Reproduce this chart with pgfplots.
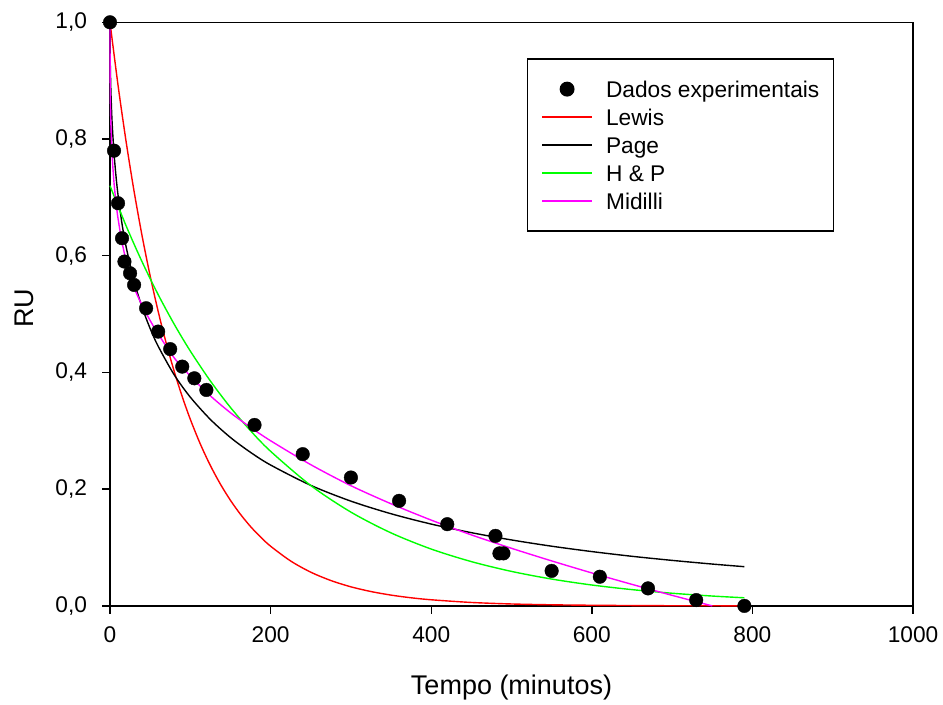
\documentclass[border=0pt]{standalone}
\usepackage{fontspec}
\setmainfont{Liberation Sans}
\usepackage{pgfplots}
\pgfplotsset{compat=1.18}
\definecolor{cRed}{RGB}{255,0,0}
\definecolor{cGreen}{RGB}{0,255,0}
\definecolor{cMag}{RGB}{255,0,255}
\pgfplotsset{legend image code/.code={\path[draw=none, fill=none] (0bp,0bp) -- (64bp,0bp);\draw[mark repeat=2, mark phase=2, #1] plot coordinates {(0bp,0bp) (25bp,0bp) (50bp,0bp)};}}
\begin{document}
\begin{tikzpicture}
\begin{axis}[
  scale only axis, width=803bp, height=583.6bp,
  xmin=0, xmax=1000, ymin=0, ymax=1,
  clip=false,
  axis line style={line width=1.4bp},
  xtick={0,200,400,600,800,1000},
  ytick={0,0.2,0.4,0.6,0.8,1.0},
  tick pos=left,
  tick align=outside,
  major tick length=8bp,
  tick style={line width=1.4bp, black},
  /pgf/number format/assume math mode=true,
  ticklabel style={font=\fontsize{22.7bp}{27bp}\selectfont},
  yticklabel style={xshift=-11.5bp, /pgf/number format/fixed, /pgf/number format/fixed zerofill, /pgf/number format/precision=1, /pgf/number format/use comma},
  xticklabel style={yshift=-9bp, /pgf/number format/1000 sep={}},
  xlabel={Tempo (minutos)},
  ylabel={RU},
  label style={font=\fontsize{27bp}{32bp}\selectfont},
  xlabel style={at={(axis description cs:0.5,-0.152)}, anchor=base},
  ylabel style={at={(axis description cs:-0.0955,0.51)}, anchor=base},
  legend style={at={(axis description cs:0.519,0.938)}, anchor=north west,
    draw=black, line width=1.3bp, inner xsep=14bp, inner ysep=16bp,
    font=\fontsize{22.7bp}{27bp}\selectfont, row sep=0bp,
    nodes={inner xsep=0bp, inner ysep=0bp, text height=22.1bp, text depth=5.9bp}},
  legend cell align=left,
]
\addplot[only marks, mark=*, mark size=6.8bp, black]
  table {
t ru
0 1.00
5 0.78
10 0.69
15 0.63
18 0.59
25 0.57
30 0.55
45 0.51
60 0.47
75 0.44
90 0.41
105 0.39
120 0.37
180 0.31
240 0.26
300 0.22
360 0.18
420 0.14
480 0.12
485 0.09
490 0.09
550 0.06
610 0.05
670 0.03
730 0.01
790 0.00
};
\addlegendentry{Dados experimentais}
\addplot[cRed, line width=1.4bp, smooth] table {
t ru
0 1.0
10 0.8923
20 0.7961
30 0.7103
40 0.6338
50 0.5655
60 0.5046
70 0.4502
80 0.4017
90 0.3584
100 0.3198
112.5 0.2773
125 0.2405
137.5 0.2086
150 0.1809
162.5 0.1569
175 0.1360
187.5 0.1180
200 0.1023
225 0.0769
250 0.0578
275 0.0435
300 0.0327
325 0.0246
350 0.0185
375 0.0139
400 0.0105
450 0.0059
500 0.0033
550 0.0019
600 0.0011
650 0.0006
700 0.0003
750 0.0002
790 0.0001
};
\addlegendentry{Lewis}
\addplot[black, line width=1.4bp, smooth] table {
t ru
0 1.0
0.1 0.9576
0.25 0.9362
0.5 0.917
1 0.887
2 0.8475
3 0.8188
5 0.7758
7.5 0.7359
10 0.7041
15 0.6544
20 0.6158
30 0.5565
40 0.5116
50 0.4753
60 0.4449
80 0.3959
100 0.3577
125 0.3195
150 0.2886
175 0.2631
200 0.2414
250 0.2066
300 0.1795
350 0.1579
400 0.1402
450 0.1255
500 0.1130
550 0.1023
600 0.0931
650 0.0850
700 0.0780
750 0.0717
790 0.0672
};
\addlegendentry{Page}
\addplot[cGreen, line width=1.4bp, smooth] table {
t ru
0 0.72
20 0.6515
40 0.5895
60 0.5334
80 0.4826
100 0.4367
125 0.3854
150 0.3401
175 0.3002
200 0.2649
250 0.2063
300 0.1607
350 0.1251
400 0.0974
450 0.0759
500 0.0591
550 0.0460
600 0.0358
650 0.0279
700 0.0217
750 0.0169
790 0.0139
};
\addlegendentry{H \& P}
\addplot[cMag, line width=1.4bp, smooth] table {
t ru
0 1.0
0.1 0.925
0.25 0.896
0.5 0.8653
1 0.8321
2 0.7916
3 0.7641
5 0.7251
7.5 0.6905
10 0.6639
15 0.6234
20 0.5924
30 0.5458
40 0.515
50 0.489
60 0.466
80 0.425
100 0.394
125 0.360
150 0.331
175 0.306
200 0.283
250 0.242
300 0.206
350 0.175
400 0.147
450 0.1217
500 0.0987
550 0.0771
600 0.0565
650 0.0369
700 0.0181
750 0.0000
};
\addlegendentry{Midilli}
\end{axis}
\path (current axis.south west) ++(-110bp,-98.4bp) coordinate (bbA);
\path (current axis.north east) ++(30bp,22.3bp) coordinate (bbB);
\path (bbA) rectangle (bbB);
\end{tikzpicture}
\end{document}
